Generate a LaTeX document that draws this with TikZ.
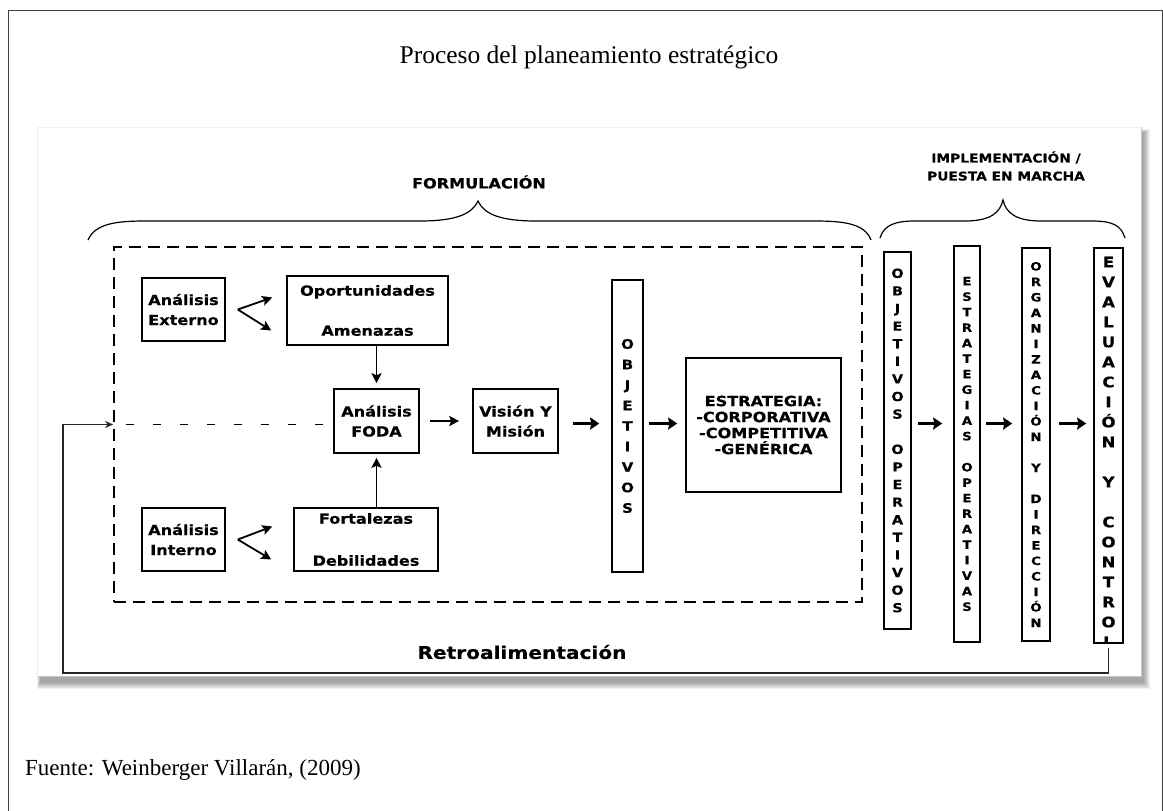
\documentclass[tikz,border=0pt]{standalone}
\usepackage{fontspec}
\setmainfont{Liberation Serif}
\newfontfamily\verd[FakeStretch=1.15, BoldFeatures={FakeBold=0.4}]{DejaVu Sans}
\usetikzlibrary{positioning, arrows.meta}

\newcommand{\diagfont}[2]{\verd\bfseries\fontsize{#1}{#2}\selectfont}

\begin{document}
\begin{tikzpicture}[x=1pt, y=-1pt,
        box/.style={rectangle, draw, line width=1.6pt, inner sep=0pt, align=center, font=\diagfont{14}{20}},
        colbox/.style={rectangle, draw, line width=1.6pt, inner sep=0pt, align=center},
        vtext/.style={align=center, inner sep=0pt},
        heading/.style={align=center, font=\diagfont{14}{18}},
        arrow/.style={->, >={Stealth[length=10pt, width=10pt, inset=2pt]}, line width=1.8pt},
        bigarrow/.style={arrow, line width=3pt, >={Stealth[length=9pt, width=12pt, inset=1pt]}},
        brace/.style={line width=1.2pt},
        fb/.style={->, >={Stealth[length=8pt, width=7pt]}, line width=1.3pt, black!85}
      ]
        \useasboundingbox (0,0) rectangle (1163,811);
        \draw[line width=1pt, black!75] (8,811) -- (8,10) -- (1162,10) -- (1162,811);

        % Title and source
        \node[font=\fontsize{25.5}{30}\selectfont] (title) at (589,57) {Proceso del planeamiento estratégico};
        \node[font=\fontsize{23}{28}\selectfont, anchor=west, inner sep=0pt] (source) at (25,770) {Fuente: Weinberger Villarán, (2009)};

        % Panel
        \foreach \k in {0,...,6}
          \fill[black, opacity=0.06] (40-\k*0.5, 132-\k*0.5) rectangle (1144+\k, 683+\k);
        \fill[white] (37,127) rectangle (1141,676);
        \draw[gray!12, line width=0.8pt] (37,676) -- (37,127) -- (1141,127);
        \draw[gray!45, line width=0.8pt] (1141,127) -- (1141,676) -- (37,676);

        % Braces
        \node[heading] (formlabel) at (479,182) {FORMULACIÓN};
        \draw[brace] (88,240) .. controls (95,224) and (115,221) .. (145,221) -- (420,221)
          .. controls (456,221) and (472,214) .. (478,201) .. controls (484,214) and (500,221) .. (536,221)
          -- (815,221) .. controls (845,221) and (865,224) .. (871,240);
        \node[heading, font=\diagfont{12}{18}] (implabel) at (1006,166) {IMPLEMENTACIÓN /\\PUESTA EN MARCHA};
        \draw[brace] (880,238) .. controls (884,225) and (895,221) .. (915,221) -- (965,221)
          .. controls (990,221) and (1000,213) .. (1003,200) .. controls (1006,213) and (1016,221) .. (1041,221)
          -- (1092,221) .. controls (1112,221) and (1121,225) .. (1125,238);

        % Formulation
        \node[draw, line width=1.8pt, dash pattern=on 12pt off 7pt, inner sep=0pt,
              minimum width=748pt, minimum height=355pt] (formbox) at (488,424.5) {};
        \node[box, minimum width=83pt, minimum height=63pt] (ext) at (183.5,309.5) {Análisis\\Externo};
        \node[box, minimum width=161pt, minimum height=69pt] (opam) at (367.5,310.5) {Oportunidades\\[20pt]Amenazas};
        \node[box, minimum width=85pt, minimum height=64pt] (foda) at (376.5,421) {Análisis\\FODA};
        \node[box, minimum width=85pt, minimum height=64pt] (vision) at (515.5,421) {Visión Y\\Misión};
        \node[box, minimum width=83pt, minimum height=63pt] (int) at (183.5,539.5) {Análisis\\Interno};
        \node[box, minimum width=144pt, minimum height=63pt] (forde) at (366,539.5) {Fortalezas\\[22pt]Debilidades};
        \node[colbox, minimum width=31pt, minimum height=292pt, font=\diagfont{13}{20.5}] (obj) at (627.5,426)
          {O\\B\\J\\E\\T\\I\\V\\O\\S};
        \node[box, minimum width=155pt, minimum height=134pt, font=\diagfont{14}{16}] (estr) at (763.5,425)
          {ESTRATEGIA:\\-CORPORATIVA\\-COMPETITIVA\\-GENÉRICA};

        % Implementation
        \node[colbox, minimum width=27pt, minimum height=377pt, font=\diagfont{12.5}{17.6}] (objop) at (897.5,440.5)
          {O\\B\\J\\E\\T\\I\\V\\O\\S\\~\\O\\P\\E\\R\\A\\T\\I\\V\\O\\S};
        \node[colbox, minimum width=26pt, minimum height=396pt, font=\diagfont{11.5}{15.5}] (estop) at (967,444)
          {E\\S\\T\\R\\A\\T\\E\\G\\I\\A\\S\\~\\O\\P\\E\\R\\A\\T\\I\\V\\A\\S};
        \node[colbox, minimum width=28pt, minimum height=393pt, font=\diagfont{11.5}{15.5}] (orgdir) at (1036,444.5)
          {O\\R\\G\\A\\N\\I\\Z\\A\\C\\I\\Ó\\N\\~\\Y\\~\\D\\I\\R\\E\\C\\C\\I\\Ó\\N};
        \node[colbox, minimum width=29pt, minimum height=395pt] (evalbox) at (1108.5,445.5) {};
        \begin{scope}
          \clip (evalbox.south west) rectangle (evalbox.north east);
          \node[vtext, font=\diagfont{14.5}{20}] (evaltext) at ([yshift=-6.5pt]evalbox.center)
            {E\\V\\A\\L\\U\\A\\C\\I\\Ó\\N\\~\\Y\\~\\C\\O\\N\\T\\R\\O\\L};
        \end{scope}

        % Arrows
        \coordinate (row) at (0,423.5);
        \draw[arrow] ([xshift=12pt]ext.east) -- ([xshift=-14pt, yshift=13pt]opam.west);
        \draw[arrow] ([xshift=12pt]ext.east) -- ([xshift=-15pt, yshift=-20pt]opam.west);
        \draw[arrow] ([xshift=12pt]int.east) -- ([xshift=-21pt, yshift=13pt]forde.west);
        \draw[arrow] ([xshift=12pt]int.east) -- ([xshift=-22pt, yshift=-20pt]forde.west);
        \draw[arrow, shorten >=5pt] (opam.south -| foda.north) -- (foda.north);
        \draw[arrow, shorten >=4pt] (forde.north -| foda.south) -- (foda.south);
        \draw[arrow, shorten <=10pt, shorten >=13pt] (foda.east) -- (vision.west);
        \draw[line width=1.6pt, dash pattern=on 8pt off 19pt, shorten <=13pt, shorten >=10pt] (formbox.west) -- (formbox.west -| foda.west);
        \draw[bigarrow, shorten <=14pt, shorten >=12pt] (vision.east |- row) -- (obj.west |- row);
        \draw[bigarrow, shorten <=5pt, shorten >=8pt] (obj.east |- row) -- (estr.west |- row);
        \draw[bigarrow, shorten <=6pt, shorten >=11pt] (objop.east |- row) -- (estop.west |- row);
        \draw[bigarrow, shorten <=5pt, shorten >=9pt] (estop.east |- row) -- (orgdir.west |- row);
        \draw[bigarrow, shorten <=8pt, shorten >=7pt] (orgdir.east |- row) -- (evalbox.west |- row);

        % Feedback
        \coordinate (fbcorner) at (63,673);
        \draw[fb, shorten <=4pt] (evalbox.south) |- (fbcorner) |- (formbox.west);
        \node[font=\diagfont{17.5}{20}] (retro) at (522,652) {Retroalimentación};
      \end{tikzpicture}
\end{document}
